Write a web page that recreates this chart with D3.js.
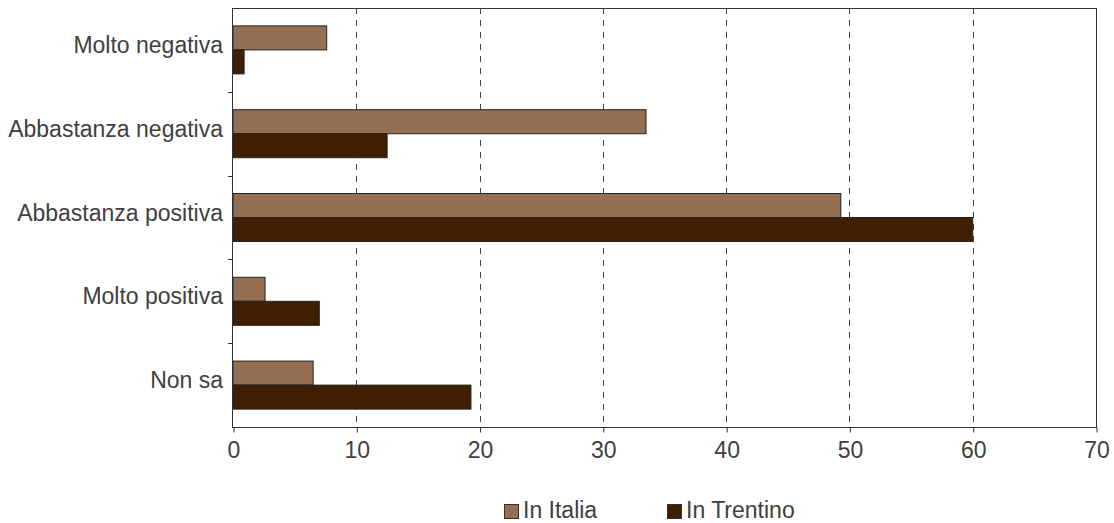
<!DOCTYPE html>
<html>
<head>
<meta charset="utf-8">
<script src="https://cdn.jsdelivr.net/npm/d3@7"></script>
<style>
  html, body { margin: 0; padding: 0; background: #fff; }
  svg text { font-family: "Liberation Sans", Arial, sans-serif; font-weight: 400; fill: #404040; }
</style>
</head>
<body>
<svg id="chart" width="1114" height="523"></svg>
<script>
// Opinion categories (top to bottom)
const categories = ["Molto negativa", "Abbastanza negativa", "Abbastanza positiva", "Molto positiva", "Non sa"];
// Percentages per series
const italia   = [7.6, 33.5, 49.3, 2.6, 6.5];
const trentino = [0.9, 12.5, 60.0, 7.0, 19.3];
const seriesNames = ["In Italia", "In Trentino"];
const seriesColors = ["#956f51", "#401f00"];
const xTicks = [0, 10, 20, 30, 40, 50, 60, 70];

const svg = d3.select("#chart");
const plot = { left: 232, top: 8, right: 1096, bottom: 427 };
const fontSize = 23;

const x = d3.scaleLinear().domain([0, 70]).range([233, 1096]);
const y = d3.scaleBand().domain(categories).range([plot.top, plot.bottom]).padding(0);
const barH = 24;

// Dashed vertical gridlines
svg.append("g").selectAll("line")
  .data(xTicks.filter(d => d > 0 && d < 70))
  .join("line")
  .attr("x1", d => Math.round(x(d)) + 0.5).attr("x2", d => Math.round(x(d)) + 0.5)
  .attr("y1", plot.top).attr("y2", plot.bottom)
  .attr("stroke", "#444").attr("stroke-width", 1)
  .attr("stroke-dasharray", "6,6");

// Bars
const rows = categories.map((c, i) => ({ cat: c, vals: [italia[i], trentino[i]] }));
const g = svg.append("g");
rows.forEach(r => {
  r.vals.forEach((v, k) => {
    const cy = y(r.cat) + y.bandwidth() / 2;
    g.append("rect")
      .attr("x", x(0))
      .attr("y", cy - barH + k * barH)
      .attr("width", x(v) - x(0))
      .attr("height", barH)
      .attr("fill", seriesColors[k])
      .attr("stroke", "#222")
      .attr("stroke-width", 1);
  });
});

// Frame
svg.append("rect")
  .attr("x", plot.left + 0.5).attr("y", plot.top + 0.5)
  .attr("width", plot.right - plot.left).attr("height", plot.bottom - plot.top)
  .attr("fill", "none").attr("stroke", "#333").attr("stroke-width", 1);

// X axis ticks and labels
const xAxis = d3.axisBottom(x).tickValues(xTicks).tickSize(5).tickPadding(8).tickFormat(d3.format("d"));
const gx = svg.append("g").attr("transform", `translate(0.5,${plot.bottom + 0.5})`).call(xAxis);
gx.select(".domain").remove();
gx.selectAll(".tick line").attr("stroke", "#333");
gx.selectAll(".tick text")
  .attr("font-size", fontSize).attr("dy", "0.75em")
  .style("font-family", "'Liberation Sans', Arial, sans-serif").style("font-weight", 400)
  .attr("fill", "#404040");

// Y axis boundary ticks
const bounds = categories.slice(1).map(c => y(c));
svg.append("g").selectAll("line").data(bounds).join("line")
  .attr("x1", plot.left - 4).attr("x2", plot.left + 0.5)
  .attr("y1", d => Math.round(d) + 0.5).attr("y2", d => Math.round(d) + 0.5)
  .attr("stroke", "#333");

// Category labels
svg.append("g").selectAll("text").data(categories).join("text")
  .attr("x", plot.left - 9)
  .attr("y", d => y(d) + y.bandwidth() / 2 + 3)
  .attr("text-anchor", "end")
  .attr("font-size", fontSize)
  .text(d => d);

// Legend
const legend = svg.append("g");
const legendX = [504, 667];
seriesNames.forEach((n, k) => {
  legend.append("rect")
    .attr("x", legendX[k] + 0.5).attr("y", 504.5)
    .attr("width", 14).attr("height", 14)
    .attr("fill", seriesColors[k]).attr("stroke", "#333");
  legend.append("text")
    .attr("x", legendX[k] + 19).attr("y", 518)
    .attr("font-size", fontSize)
    .text(n);
});
</script>
</body>
</html>
